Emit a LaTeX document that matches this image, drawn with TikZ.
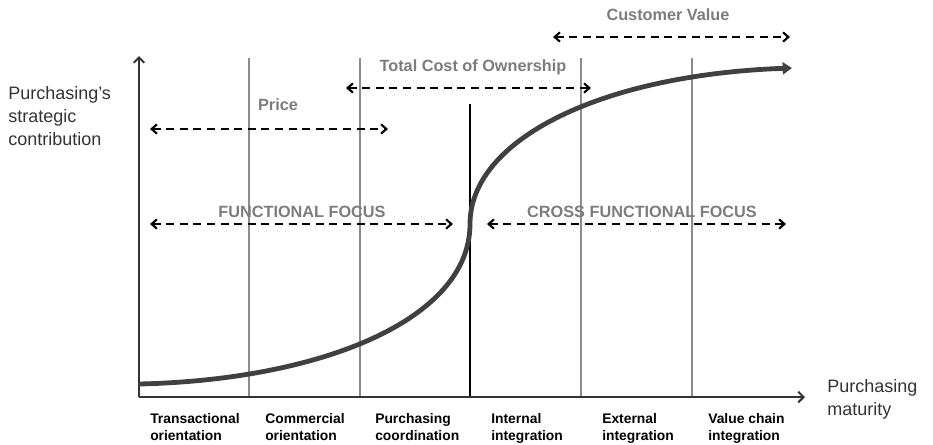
\documentclass[tikz,border=0pt]{standalone}
\usepackage{fontspec}
\setmainfont{Liberation Sans}
\usetikzlibrary{arrows.meta}
\definecolor{axisdark}{HTML}{333333}
\definecolor{curvedark}{HTML}{404040}
\definecolor{stagegray}{HTML}{8C8C8C}
\definecolor{labelgray}{HTML}{7C7C7C}

\begin{document}
\begin{tikzpicture}[x=0.75pt,y=-0.75pt]
        \tikzstyle{axis}=[draw=axisdark, line width=1.5pt, -{Straight Barb[length=4pt,width=8pt]}]
        \tikzstyle{stage line}=[draw=stagegray, line width=1.1pt]
        \tikzstyle{span arrow}=[draw=black, line width=1.6pt, dash pattern=on 6pt off 4.2pt,
            {Straight Barb[length=4pt,width=7pt]}-{Straight Barb[length=4pt,width=7pt]}]
        \tikzstyle{span label}=[anchor=base, inner sep=0pt, text=labelgray, font=\fontsize{12.2}{14}\selectfont\bfseries]
        \tikzstyle{stage label}=[anchor=base west, align=left, inner sep=0pt, font=\fontsize{10.4}{12.75}\selectfont\bfseries]
        \tikzstyle{axis label}=[anchor=base west, align=left, inner sep=0pt, text=axisdark, font=\fontsize{13.5}{17}\selectfont]
        \useasboundingbox (0,0) rectangle (933,444);

        \coordinate (origin) at (139,397);
        \coordinate (ytop) at (139,56);
        \coordinate (xend) at (805,397);

        % stage boundaries
        \foreach \sx/\sn in {249/s1, 360/s2, 581/s4, 692/s5} {
            \coordinate (\sn top) at (\sx,58);
            \coordinate (\sn bot) at (\sx,397);
            \draw[stage line] (\sn top) -- (\sn bot);
        }
        \coordinate (s3 top) at (470,104);
        \coordinate (s3 bot) at (470,397);
        \draw[black, line width=1.3pt] (s3 top) -- (s3 bot);

        \draw[axis] (origin) -- (ytop);
        \draw[axis] (origin) -- (xend);

        % maturity curve
        \coordinate (cstart) at (139,384);
        \coordinate (cmid) at (470,224);
        \coordinate (cend) at (792,68);
        \draw[curvedark, line width=3.6pt, -{Triangle[length=7pt,width=9pt]}]
            (cstart) .. controls (320,380) and (470,320) .. (cmid)
            .. controls (470,140) and (600,75) .. (cend);

        % spans
        \node[span label] (price) at (278,110) {Price};
        \coordinate (price l) at (150,129);
        \coordinate (price r) at (388,129);
        \draw[span arrow] (price l) -- (price r);

        \node[span label] (tco) at (473,71) {Total Cost of Ownership};
        \coordinate (tco l) at (346,88);
        \coordinate (tco r) at (591,88);
        \draw[span arrow] (tco l) -- (tco r);

        \node[span label] (value) at (668,20) {Customer Value};
        \coordinate (value l) at (553,37);
        \coordinate (value r) at (790,37);
        \draw[span arrow] (value l) -- (value r);

        \node[span label] (func) at (302,217) {FUNCTIONAL FOCUS};
        \coordinate (func l) at (150,224);
        \coordinate (func r) at (453,224);
        \draw[span arrow] (func l) -- (func r);

        \node[span label] (cross) at (642,217) {CROSS FUNCTIONAL FOCUS};
        \coordinate (cross l) at (487,224);
        \coordinate (cross r) at (786,224);
        \draw[span arrow] (cross l) -- (cross r);

        % axis titles (base = last line)
        \node[axis label] (ytitle) at (8,145) {Purchasing’s\\strategic\\contribution};
        \node[axis label] (xtitle) at (827,415) {Purchasing\\maturity};

        % stages
        \node[stage label] (st1) at (150,440) {Transactional\\orientation};
        \node[stage label] (st2) at (265,440) {Commercial\\orientation};
        \node[stage label] (st3) at (375,440) {Purchasing\\coordination};
        \node[stage label] (st4) at (491,440) {Internal\\integration};
        \node[stage label] (st5) at (602,440) {External\\integration};
        \node[stage label] (st6) at (708,440) {Value chain\\integration};
    \end{tikzpicture}
\end{document}
